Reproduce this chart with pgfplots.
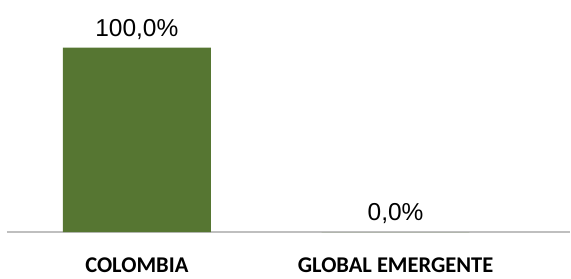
\documentclass[border=0pt]{standalone}
\usepackage{pgfplots}
\pgfplotsset{compat=1.18}
\usepackage{fontspec}
\setmainfont{Liberation Sans}
\newfontfamily\carlito{Carlito}
\definecolor{barg}{RGB}{86,118,50}
\definecolor{axg}{RGB}{191,191,191}
\begin{document}
\begin{tikzpicture}
\begin{axis}[
  scale only axis,
  width=564pt, height=232.3pt,
  xmin=-0.502, xmax=1.676,
  ymin=0, ymax=125.8,
  hide y axis,
  axis x line*=bottom,
  x axis line style={draw=axg, line width=1.2pt, -},
  xtick={0,1},
  xticklabels={COLOMBIA, GLOBAL EMERGENTE},
  major tick length=0pt,
  xtick style={draw=none},
  xticklabel style={font=\carlito\bfseries\fontsize{22.5}{24}\selectfont, anchor=base, yshift=-40pt},
  /pgf/number format/assume math mode=true,
  clip=false,
  ybar,
  bar width=148pt,
  nodes near coords={\pgfmathprintnumber[fixed,fixed zerofill,precision=1,use comma]{\pgfplotspointmeta}\%},
  every node near coord/.append style={font=\fontsize{24.5}{26}\selectfont, anchor=base, yshift=11.5pt, inner sep=0pt, text=black},
]
\addplot[fill=barg, draw=none] coordinates {(0,100) (1,0)};
\end{axis}
\path (-7pt,-46pt) rectangle (564pt,232.3pt);
\end{tikzpicture}
\end{document}
